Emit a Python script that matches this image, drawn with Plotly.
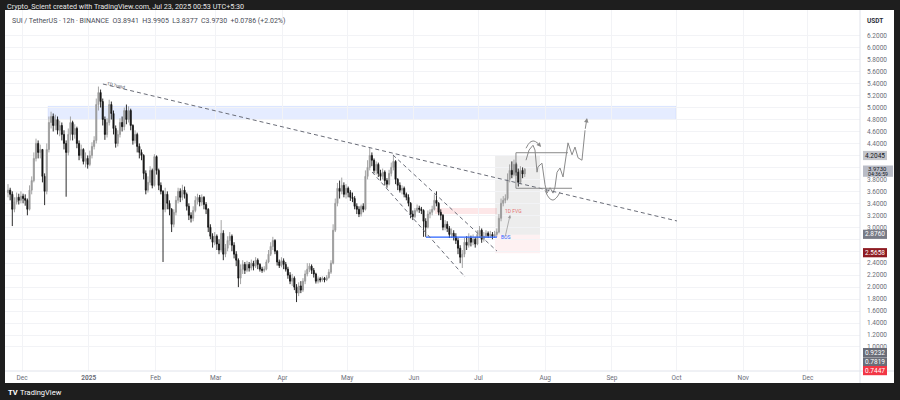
import plotly.graph_objects as go
import pandas as pd

# ---------------- data (daily view of the 12h SUI/USDT chart) ----------------
DATES = pd.date_range("2024-11-24 12:00", periods=241, freq="D")
FIRST_OPEN = 3.58
CLOSE = [
    3.62, 3.55, 3.30, 3.42, 3.50, 3.45, 3.52, 3.48, 3.45, 3.30,
    3.62, 3.78, 4.15, 4.40, 4.25, 4.30, 3.85, 3.60, 4.30, 4.75,
    4.85, 4.70, 4.80, 4.62, 4.70, 4.55, 4.40, 4.25, 4.55, 4.75,
    4.55, 4.65, 4.40, 4.20, 4.30, 4.10, 4.15, 4.05, 4.20, 4.35,
    4.45, 5.05, 5.25, 5.10, 4.80, 4.55, 4.75, 5.05, 4.90, 4.65,
    4.40, 4.55, 4.75, 4.68, 4.95, 4.80, 4.95, 4.70, 4.45, 4.55,
    4.35, 4.25, 4.20, 3.90, 3.62, 3.75, 3.95, 3.70, 4.18, 3.95,
    3.70, 3.60, 3.30, 3.55, 3.40, 3.30, 3.05, 3.25, 3.45, 3.60,
    3.50, 3.62, 3.55, 3.35, 3.20, 3.15, 3.28, 3.45, 3.50, 3.42,
    3.50, 3.38, 3.30, 3.00, 2.85, 2.75, 2.85, 2.72, 2.62, 2.90,
    2.55, 2.65, 2.78, 2.85, 2.70, 2.55, 2.45, 2.15, 2.30, 2.38,
    2.28, 2.38, 2.32, 2.40, 2.35, 2.45, 2.38, 2.30, 2.28, 2.30,
    2.42, 2.55, 2.68, 2.78, 2.60, 2.42, 2.36, 2.44, 2.38, 2.30,
    2.20, 2.10, 2.15, 2.00, 1.90, 2.02, 1.95, 2.10, 2.22, 2.30,
    2.35, 2.28, 2.22, 2.10, 2.14, 2.12, 2.15, 2.12, 2.16, 2.25,
    2.40, 2.95, 3.40, 3.65, 3.60, 3.70, 3.55, 3.65, 3.58, 3.50,
    3.48, 3.35, 3.30, 3.22, 3.35, 3.30, 3.85, 4.00, 4.20, 4.12,
    3.95, 4.05, 3.90, 3.85, 3.92, 3.78, 3.72, 3.90, 4.00, 4.10,
    3.80, 3.70, 3.62, 3.65, 3.55, 3.50, 3.40, 3.22, 3.18, 3.28,
    3.32, 3.30, 3.28, 3.10, 3.00, 3.22, 3.25, 3.30, 3.45, 3.40,
    3.25, 3.20, 3.00, 3.05, 2.98, 2.88, 2.90, 2.84, 2.78, 2.65,
    2.50, 2.55, 2.75, 2.70, 2.82, 2.75, 2.80, 2.72, 2.88, 2.95,
    2.80, 2.85, 2.90, 2.86, 2.88, 2.85, 2.88, 2.92, 3.15, 3.40,
    3.45, 3.48, 3.80, 3.95, 3.88, 4.05, 3.92, 3.75, 3.95, 3.89,
    3.97,
]
HIGH = [
    3.72, 3.66, 3.60, 3.50, 3.58, 3.56, 3.60, 3.56, 3.55, 3.48,
    3.70, 3.85, 4.25, 4.48, 4.45, 4.38, 4.30, 3.90, 4.40, 4.85,
    4.93, 4.90, 4.88, 4.85, 4.78, 4.75, 4.62, 4.45, 4.65, 4.85,
    4.78, 4.72, 4.68, 4.45, 4.38, 4.32, 4.25, 4.20, 4.28, 4.42,
    4.52, 5.15, 5.35, 5.30, 5.15, 4.85, 4.82, 5.13, 5.10, 4.95,
    4.70, 4.62, 4.82, 4.85, 5.00, 5.05, 5.02, 4.98, 4.72, 4.62,
    4.58, 4.40, 4.30, 4.22, 3.95, 3.85, 4.02, 3.98, 4.22, 4.20,
    3.98, 3.75, 3.62, 3.66, 3.60, 3.45, 3.32, 3.30, 3.52, 3.66,
    3.65, 3.71, 3.68, 3.58, 3.40, 3.25, 3.35, 3.52, 3.56, 3.54,
    3.55, 3.52, 3.42, 3.32, 3.05, 2.90, 2.92, 2.88, 2.80, 3.12,
    2.95, 2.72, 2.85, 2.92, 2.88, 2.75, 2.60, 2.48, 2.38, 2.45,
    2.42, 2.44, 2.42, 2.46, 2.44, 2.50, 2.48, 2.40, 2.34, 2.35,
    2.46, 2.62, 2.75, 2.84, 2.80, 2.62, 2.46, 2.50, 2.48, 2.42,
    2.34, 2.25, 2.22, 2.18, 2.05, 2.08, 2.10, 2.15, 2.28, 2.40,
    2.40, 2.38, 2.32, 2.24, 2.18, 2.17, 2.18, 2.17, 2.20, 2.30,
    2.45, 3.05, 3.48, 3.74, 3.78, 3.83, 3.75, 3.72, 3.68, 3.62,
    3.58, 3.52, 3.40, 3.35, 3.38, 3.40, 3.95, 4.12, 4.33, 4.25,
    4.15, 4.10, 4.08, 3.96, 3.98, 3.95, 3.82, 3.96, 4.08, 4.21,
    4.12, 3.82, 3.75, 3.70, 3.68, 3.58, 3.55, 3.42, 3.28, 3.32,
    3.38, 3.36, 3.34, 3.30, 3.15, 3.28, 3.30, 3.36, 3.55, 3.60,
    3.42, 3.30, 3.22, 3.12, 3.10, 3.02, 2.98, 2.95, 2.90, 2.82,
    2.70, 2.62, 2.82, 2.85, 2.90, 2.86, 2.88, 2.84, 2.95, 3.02,
    2.98, 2.92, 2.95, 2.93, 2.94, 2.92, 2.94, 2.98, 3.22, 3.48,
    3.52, 3.55, 3.90, 4.05, 4.10, 4.13, 4.08, 3.98, 4.02, 4.00,
    3.99,
]
LOW = [
    3.50, 3.45, 3.02, 3.25, 3.38, 3.38, 3.40, 3.40, 3.36, 3.20,
    3.28, 3.55, 3.75, 4.10, 4.15, 4.15, 3.75, 3.37, 3.55, 4.25,
    4.65, 4.60, 4.62, 4.55, 4.52, 4.45, 4.30, 3.51, 4.20, 4.45,
    4.45, 4.48, 4.32, 4.12, 4.15, 4.05, 4.00, 3.98, 4.02, 4.15,
    4.30, 4.40, 4.95, 5.00, 4.70, 4.46, 4.50, 4.70, 4.80, 4.55,
    4.33, 4.35, 4.50, 4.60, 4.62, 4.72, 4.75, 4.62, 4.38, 4.40,
    4.25, 4.15, 4.12, 3.80, 3.55, 3.58, 3.70, 3.65, 3.68, 3.88,
    3.62, 3.55, 2.42, 3.25, 3.30, 3.20, 2.92, 3.00, 3.20, 3.40,
    3.42, 3.45, 3.48, 3.28, 3.12, 3.08, 3.10, 3.25, 3.38, 3.35,
    3.36, 3.30, 3.22, 2.92, 2.80, 2.66, 2.70, 2.62, 2.55, 2.58,
    2.45, 2.50, 2.60, 2.70, 2.60, 2.48, 2.35, 2.00, 2.05, 2.22,
    2.22, 2.25, 2.26, 2.28, 2.28, 2.32, 2.30, 2.26, 2.24, 2.25,
    2.28, 2.40, 2.52, 2.62, 2.55, 2.36, 2.32, 2.33, 2.30, 2.26,
    2.14, 2.05, 2.02, 1.95, 1.75, 1.85, 1.90, 1.92, 2.05, 2.18,
    2.25, 2.22, 2.16, 2.06, 2.06, 2.08, 2.09, 2.08, 2.10, 2.14,
    2.22, 2.38, 2.92, 3.35, 3.48, 3.55, 3.50, 3.48, 3.50, 3.44,
    3.42, 3.30, 3.22, 3.17, 3.18, 3.25, 3.28, 3.80, 3.95, 4.02,
    3.90, 3.88, 3.84, 3.78, 3.80, 3.70, 3.66, 3.70, 3.85, 3.95,
    3.72, 3.62, 3.58, 3.55, 3.50, 3.45, 3.35, 3.15, 3.12, 3.15,
    3.25, 3.24, 3.22, 2.84, 2.84, 2.98, 3.15, 3.20, 3.28, 3.35,
    3.20, 3.12, 2.95, 2.95, 2.92, 2.82, 2.82, 2.78, 2.72, 2.55,
    2.40, 2.32, 2.50, 2.62, 2.66, 2.68, 2.70, 2.66, 2.70, 2.82,
    2.74, 2.76, 2.82, 2.82, 2.82, 2.80, 2.82, 2.84, 2.90, 3.10,
    3.35, 3.40, 3.45, 3.75, 3.82, 3.85, 3.86, 3.68, 3.72, 3.82,
    3.84,
]
OPEN = [FIRST_OPEN] + CLOSE[:-1]

PRICE_TICKS = [1.0, 1.2, 1.4, 1.6, 1.8, 2.0, 2.2, 2.4, 2.6, 2.8, 3.0, 3.2, 3.4,
               3.6, 3.8, 4.0, 4.2, 4.4, 4.6, 4.8, 5.0, 5.2, 5.4, 5.6, 5.8, 6.0, 6.2]
# tick labels hidden under the price badges of the scale
HIDDEN_TICKS = [2.6, 2.8, 4.0, 4.2]
MONTH_TICKS = ["2024-12-01", "2025-01-01", "2025-02-01", "2025-03-01", "2025-04-01",
               "2025-05-01", "2025-06-01", "2025-07-01", "2025-08-01", "2025-09-01",
               "2025-10-01", "2025-11-01", "2025-12-01"]
MONTH_LABELS = ["Dec", "<b>2025</b>", "Feb", "Mar", "Apr", "May", "Jun", "Jul",
                "Aug", "Sep", "Oct", "Nov", "Dec"]

# levels of the drawings on the chart
ZONE_LOW, ZONE_HIGH = 4.80, 5.02
TARGET, ENTRY, STOP = 4.2045, 2.876, 2.5658
FVG_LOW, FVG_HIGH = 3.22, 3.32
BOS_LEVEL = 2.835

# projected path (hand drawing)
PROJ_X = ["2025-07-23 02:00", "2025-07-24 12:00", "2025-07-26 08:00", "2025-07-27 06:00",
          "2025-07-28 05:00", "2025-07-28 16:00", "2025-07-30 12:00", "2025-07-31 22:00",
          "2025-08-01 20:00", "2025-08-03 06:00", "2025-08-04 15:00", "2025-08-05 13:00",
          "2025-08-06 12:00", "2025-08-07 21:00", "2025-08-09 07:00", "2025-08-11 14:00",
          "2025-08-13 11:00", "2025-08-14 20:00", "2025-08-16 06:00", "2025-08-18 02:00",
          "2025-08-19 12:00"]
PROJ_Y = [4.12, 4.29, 4.37, 4.29, 3.92, 4.01, 4.07, 3.71, 3.57, 3.66, 3.57, 3.67,
          3.92, 3.99, 3.84, 4.41, 4.21, 4.34, 4.16, 4.12, 4.62]

# ---------------- geometry helpers (pixel -> paper) ----------------
W, H = 900, 400
ML, MR, MT, MB = 5, 40, 10, 29
PW, PH = W - ML - MR, H - MT - MB


def fx(px):
    return (px - ML) / PW


def fy(py):
    return (H - MB - py) / PH


FONT = "Roboto, Inter, sans-serif"
GREY_TXT = "#6a6d78"

fig = go.Figure()

fig.add_trace(go.Candlestick(
    x=DATES, open=OPEN, high=HIGH, low=LOW, close=CLOSE,
    increasing=dict(line=dict(color="#9b9b9b", width=0.9), fillcolor="#9b9b9b"),
    decreasing=dict(line=dict(color="#141414", width=0.9), fillcolor="#141414"),
    whiskerwidth=0, hoverinfo="skip", showlegend=False,
))

# projection zigzag
fig.add_trace(go.Scatter(x=PROJ_X, y=PROJ_Y, mode="lines",
                         line=dict(color="#8a8a8a", width=1), hoverinfo="skip",
                         showlegend=False))
# top curved arrow
fig.add_trace(go.Scatter(
    x=["2025-07-23 02:00", "2025-07-24 23:00", "2025-07-26 19:00", "2025-07-28 16:00"],
    y=[4.32, 4.42, 4.44, 4.40], mode="lines", line=dict(color="#8a8a8a", width=1, shape="spline"),
    hoverinfo="skip", showlegend=False))
# bottom smile
fig.add_trace(go.Scatter(
    x=["2025-07-31 22:00", "2025-08-02 19:00", "2025-08-04 15:00", "2025-08-06 12:00", "2025-08-07 21:00"],
    y=[3.62, 3.49, 3.455, 3.505, 3.59], mode="lines",
    line=dict(color="#8a8a8a", width=1, shape="spline"),
    hoverinfo="skip", showlegend=False))

shapes = []
# white chart panel
shapes.append(dict(type="rect", xref="paper", yref="paper", x0=fx(5), x1=fx(894),
                   y0=fy(383), y1=fy(10), fillcolor="white", line=dict(width=0), layer="below"))
# blue resistance zone
shapes.append(dict(type="rect", xref="x", yref="y", x0="2024-12-13 02:00", x1="2025-09-30 19:00",
                   y0=ZONE_LOW, y1=ZONE_HIGH, fillcolor="rgba(41,98,255,0.12)",
                   line=dict(color="rgba(41,98,255,0.18)", width=0.5), layer="below"))
# long position tool
shapes.append(dict(type="rect", xref="x", yref="y", x0="2025-07-08 17:00", x1="2025-07-29 14:00",
                   y0=ENTRY, y1=TARGET, fillcolor="rgba(0,0,0,0.07)", line=dict(width=0), layer="below"))
shapes.append(dict(type="rect", xref="x", yref="y", x0="2025-07-08 17:00", x1="2025-07-29 14:00",
                   y0=STOP, y1=ENTRY, fillcolor="rgba(242,54,69,0.07)", line=dict(width=0), layer="below"))
# FVG
shapes.append(dict(type="rect", xref="x", yref="y", x0="2025-06-10 19:00", x1="2025-07-09 14:00",
                   y0=FVG_LOW, y1=FVG_HIGH, fillcolor="rgba(242,54,69,0.12)", line=dict(width=0), layer="below"))
# BOS line
shapes.append(dict(type="line", xref="x", yref="y", x0="2025-06-06 14:00", x1="2025-07-09 14:00",
                   y0=BOS_LEVEL, y1=BOS_LEVEL, line=dict(color="#2962ff", width=1.2)))
# TD trend line
shapes.append(dict(type="line", xref="x", yref="y", x0="2025-01-07 14:00", x1="2025-10-01 05:00",
                   y0=5.393, y1=3.105, line=dict(color="#6a6d78", width=1, dash="4px,3px")))
# descending channel
shapes.append(dict(type="line", xref="x", yref="y", x0="2025-05-22 07:00", x1="2025-07-09 14:00",
                   y0=4.207, y1=2.603, line=dict(color="#6a6d78", width=1, dash="4px,3px")))
shapes.append(dict(type="line", xref="x", yref="y", x0="2025-05-12 14:00", x1="2025-06-24 19:00",
                   y0=3.923, y1=2.169, line=dict(color="#6a6d78", width=1, dash="4px,3px")))
# projection box (3 sides)
for (x0, x1, y0, y1) in [("2025-07-18 10:00", "2025-08-11 14:00", 4.245, 4.245),
                         ("2025-07-18 10:00", "2025-07-18 10:00", 4.245, 3.651),
                         ("2025-07-18 10:00", "2025-08-13 11:00", 3.651, 3.651)]:
    shapes.append(dict(type="line", xref="x", yref="y", x0=x0, x1=x1, y0=y0, y1=y1,
                       line=dict(color="#8a8a8a", width=1)))
# axis separators
shapes.append(dict(type="line", xref="paper", yref="paper", x0=0, x1=fx(894), y0=0, y1=0,
                   line=dict(color="#e0e3eb", width=1)))
shapes.append(dict(type="line", xref="paper", yref="paper", x0=1, x1=1, y0=fy(383), y1=1,
                   line=dict(color="#e0e3eb", width=1)))

annotations = []

# price badges on the right scale
badges = [
    ("4.2045", 155.5, "#c3c5cb", "#131722", 887),
    ("2.8760", 234.3, "#787b86", "white", 887),
    ("2.5658", 252.7, "#8e1b22", "white", 887),
    ("0.9232", 352.6, "#6a6d78", "white", 887),
    ("0.7819", 362.0, "#6a6d78", "white", 887),
    ("0.7447", 370.6, "#f23645", "white", 887),
]
for txt, py, bg, fc, xr in badges:
    shapes.append(dict(type="rect", xref="paper", yref="paper", x0=fx(863), x1=fx(xr),
                       y0=fy(py + 4.6), y1=fy(py - 4.6), fillcolor=bg, line=dict(width=0)))
    annotations.append(dict(xref="paper", yref="paper", x=fx(875), y=fy(py), text=txt,
                            showarrow=False, font=dict(family=FONT, size=6.5, color=fc),
                            xanchor="center", yanchor="middle"))
# current price + countdown
shapes.append(dict(type="rect", xref="paper", yref="paper", x0=fx(863), x1=fx(893),
                   y0=fy(176.8), y1=fy(165.5), fillcolor="#b9bcc6", line=dict(width=0)))
annotations.append(dict(xref="paper", yref="paper", x=fx(866), y=fy(168.5), text="3.9730",
                        showarrow=False, font=dict(family=FONT, size=6, color="#131722"),
                        xanchor="left", yanchor="middle"))
annotations.append(dict(xref="paper", yref="paper", x=fx(866), y=fy(173.6), text="04:36:59",
                        showarrow=False, font=dict(family=FONT, size=5.2, color="#131722"),
                        xanchor="left", yanchor="middle"))

# chart texts
annotations += [
    dict(xref="paper", yref="paper", x=fx(5), y=fy(6.5), text="Crypto_Scient created with TradingView.com, Jul 23, 2025 00:53 UTC+5:30",
         showarrow=False, xanchor="left", yanchor="middle", font=dict(family=FONT, size=7.2, color="#e6e6e6")),
    dict(xref="paper", yref="paper", x=fx(10), y=fy(21), text="SUI / TetherUS · 12h · BINANCE  O3.8941  H3.9905  L3.8377  C3.9730  +0.0786 (+2.02%)",
         showarrow=False, xanchor="left", yanchor="middle", font=dict(family=FONT, size=7, color="#4a4d57")),
    dict(xref="paper", yref="paper", x=fx(885), y=fy(21), text="<b>USDT</b>",
         showarrow=False, xanchor="right", yanchor="middle", font=dict(family=FONT, size=6.5, color="#2a2e39")),
    dict(xref="paper", yref="paper", x=fx(6), y=fy(392), text="<b>TV</b>",
         showarrow=False, xanchor="left", yanchor="middle", font=dict(family=FONT, size=7.5, color="white")),
    dict(xref="paper", yref="paper", x=fx(18), y=fy(392), text="TradingView",
         showarrow=False, xanchor="left", yanchor="middle", font=dict(family=FONT, size=7.5, color="white")),
    dict(xref="x", yref="y", x="2025-01-13 16:00", y=5.37, text="TD Trend", textangle=13,
         showarrow=False, font=dict(family=FONT, size=4.5, color="#4a4d57")),
    dict(xref="x", yref="y", x="2025-07-17 07:00", y=3.272, text="1D FVG",
         showarrow=False, font=dict(family=FONT, size=5, color="#e57373")),
    dict(xref="x", yref="y", x="2025-07-13 19:00", y=BOS_LEVEL, text="BOS",
         showarrow=False, font=dict(family=FONT, size=5, color="#2962ff")),
    # FVG arrow
    dict(xref="x", yref="y", axref="x", ayref="y", x="2025-07-15 17:00", y=3.205,
         ax="2025-07-13 07:00", ay=2.821, text="", showarrow=True, arrowhead=2,
         arrowsize=0.8, arrowwidth=0.8, arrowcolor="#9a9a9a"),
    # top arc arrow
    dict(xref="x", yref="y", axref="x", ayref="y", x="2025-07-30 02:00", y=4.34,
         ax="2025-07-28 16:00", ay=4.40, text="", showarrow=True, arrowhead=2,
         arrowsize=0.9, arrowwidth=1, arrowcolor="#8a8a8a"),
    # projection final leg arrow
    dict(xref="x", yref="y", axref="x", ayref="y", x="2025-08-20 10:00", y=4.825,
         ax="2025-08-19 12:00", ay=4.62, text="", showarrow=True, arrowhead=2,
         arrowsize=0.9, arrowwidth=1, arrowcolor="#8a8a8a"),
]

fig.update_layout(
    width=W, height=H,
    margin=dict(l=ML, r=MR, t=MT, b=MB),
    paper_bgcolor="#1e1e1e", plot_bgcolor="white",
    shapes=shapes, annotations=annotations,
    showlegend=False,
    font=dict(family=FONT),
    xaxis=dict(
        type="date", range=["2024-11-23 02:30", "2025-12-25 05:00"],
        rangeslider=dict(visible=False),
        tickvals=MONTH_TICKS, ticktext=MONTH_LABELS,
        tickfont=dict(size=6.5, color=GREY_TXT, family=FONT),
        showgrid=True, gridcolor="#f2f3f6", gridwidth=1,
        zeroline=False, showline=False, ticks="", ticklabelstandoff=1,
        fixedrange=True,
    ),
    yaxis=dict(
        side="right", range=[0.599, 6.629],
        tickvals=PRICE_TICKS,
        ticktext=["" if v in HIDDEN_TICKS else f"{v:.4f}" for v in PRICE_TICKS],
        tickfont=dict(size=6.5, color=GREY_TXT, family=FONT),
        showgrid=True, gridcolor="#f2f3f6", gridwidth=1,
        zeroline=False, showline=False, ticks="", ticklabelstandoff=6,
        fixedrange=True,
    ),
)

fig.write_html(
    "out.html",
    config={"displayModeBar": False},
    post_script="document.body.style.margin='0';document.body.style.background='#1e1e1e';"
                "document.documentElement.style.background='#1e1e1e';",
)
